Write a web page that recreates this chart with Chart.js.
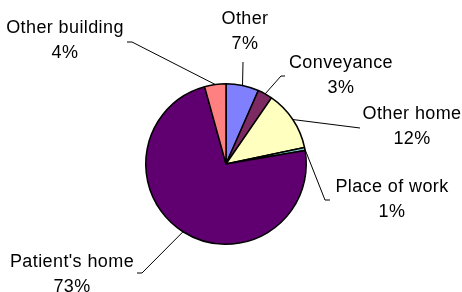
<!DOCTYPE html>
<html>
<head>
<meta charset="utf-8">
<script src="https://cdn.jsdelivr.net/npm/chart.js@4/dist/chart.umd.min.js"></script>
<style>
    html, body { margin: 0; padding: 0; background: #fff; }
    #wrap { width: 462px; height: 292px; position: relative; }
</style>
</head>
<body>
<div id="wrap"><canvas id="graficoLugar"></canvas></div>
<script>
// Datos
const categorias = ['Other', 'Conveyance', 'Other home', 'Place of work', "Patient's home", 'Other building'];
const valores = [6.6, 3.0, 12.1, 0.6, 73.4, 4.3];
const colores = ['#8080FF', '#7E2A62', '#FFFFC0', '#80C8C8', '#600070', '#FF8080'];

// Posición de cada etiqueta (centro x, línea base y) y codo de la línea guía
const etiquetas = [
    { x: 245, y: 24, guia: [[243, 62]] },
    { x: 341, y: 68, guia: [[281, 76], [285, 76]] },
    { x: 412, y: 119, guia: [[360, 128]] },
    { x: 392, y: 192, guia: [[325, 200], [330, 200]] },
    { x: 72, y: 267, guia: [[142, 273], [137, 273]] },
    { x: 65, y: 33, guia: [[132, 42], [127, 42]] }
];

const pluginEtiquetas = {
    id: 'etiquetas',
    afterDraw(chart) {
        const ctx = chart.ctx;
        const meta = chart.getDatasetMeta(0);
        const total = valores.reduce((a, b) => a + b, 0);
        ctx.save();
        meta.data.forEach((arc, i) => {
            const { x, y, startAngle, endAngle, outerRadius } = arc.getProps(['x', 'y', 'startAngle', 'endAngle', 'outerRadius'], true);
            const medio = (startAngle + endAngle) / 2;
            const et = etiquetas[i];

            // línea guía
            ctx.strokeStyle = '#000';
            ctx.lineWidth = 1;
            ctx.beginPath();
            ctx.moveTo(x + Math.cos(medio) * outerRadius, y + Math.sin(medio) * outerRadius);
            et.guia.forEach(p => ctx.lineTo(p[0], p[1]));
            ctx.stroke();

            // texto
            ctx.fillStyle = '#000';
            ctx.font = '18px "Liberation Sans", Arial, sans-serif';
            ctx.letterSpacing = '0.4px';
            ctx.textAlign = 'center';
            ctx.textBaseline = 'alphabetic';
            ctx.fillText(categorias[i], et.x, et.y);
            const porcentaje = Math.round(valores[i] / total * 100);
            ctx.fillText(porcentaje + '%', et.x, et.y + 25);
        });
        ctx.restore();
    }
};

new Chart(document.getElementById('graficoLugar'), {
    type: 'pie',
    data: {
        labels: categorias,
        datasets: [{
            data: valores,
            backgroundColor: colores,
            borderColor: '#000',
            borderWidth: 1.5
        }]
    },
    options: {
        responsive: true,
        maintainAspectRatio: false,
        animation: false,
        layout: { padding: { left: 145, right: 155, top: 83, bottom: 47 } },
        plugins: {
            legend: { display: false },
            tooltip: { enabled: false }
        }
    },
    plugins: [pluginEtiquetas]
});
</script>
</body>
</html>
